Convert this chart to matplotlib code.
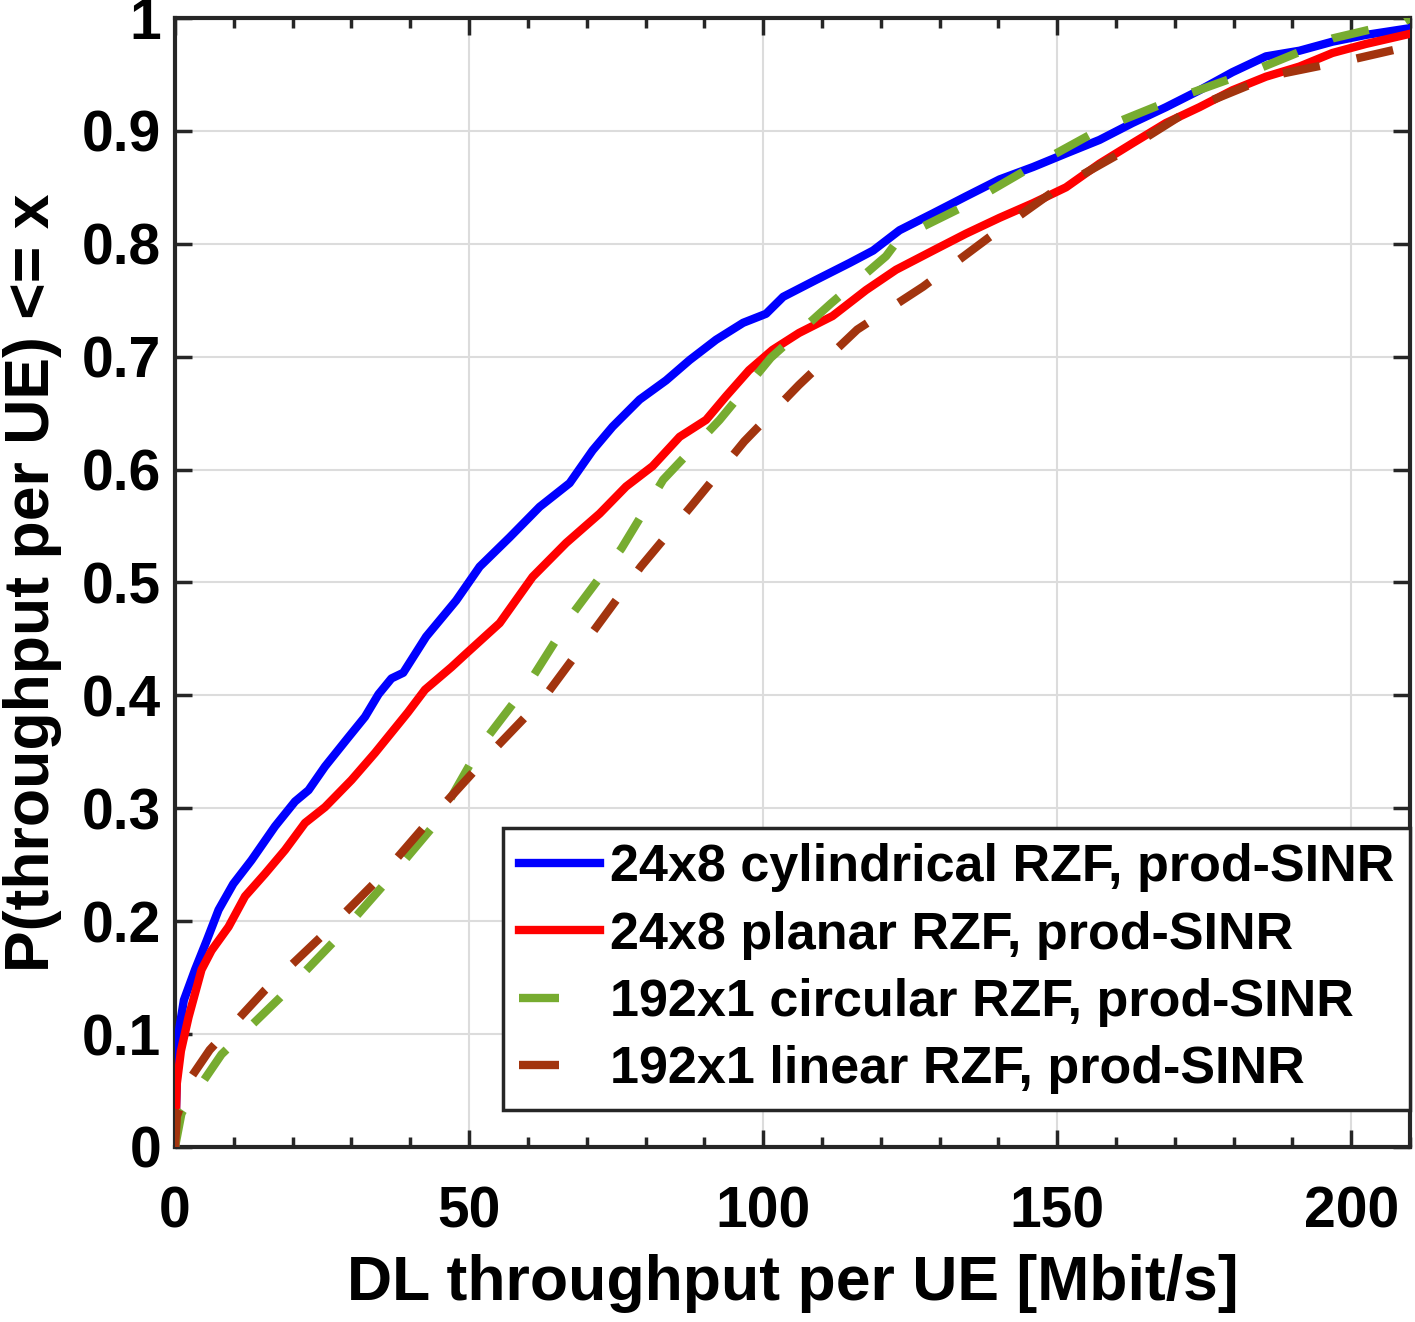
import numpy as np
import matplotlib
matplotlib.use('Agg')
import matplotlib.pyplot as plt
from matplotlib.lines import Line2D
from matplotlib.ticker import MultipleLocator

# Valeurs (CDF du débit DL par UE)
cyl_x = [0, 0.3, 0.57, 1.5, 3.4, 5.4, 7.4, 9.9, 13, 17, 20.4, 22.7, 25.5, 29.5, 32.3,
         34.6, 36.8, 38.8, 42.7, 47.8, 51.8, 56.9, 62, 67.1, 71, 74.4, 79, 83.5, 87.5,
         92, 96.6, 100.5, 103.4, 109, 114.7, 118.7, 123.2, 128.9, 134.5, 140.2, 145.9,
         151.5, 157.2, 162.8, 168.5, 174.2, 179.8, 185.5, 191.2, 196.8, 202.5, 210]
cyl_y = [0, 0.06, 0.1, 0.13, 0.157, 0.183, 0.21, 0.233, 0.254, 0.284, 0.306, 0.316,
         0.337, 0.363, 0.381, 0.401, 0.415, 0.42, 0.452, 0.484, 0.514, 0.54, 0.567,
         0.588, 0.617, 0.638, 0.662, 0.679, 0.697, 0.715, 0.73, 0.738, 0.753, 0.768,
         0.783, 0.794, 0.812, 0.827, 0.842, 0.857, 0.868, 0.88, 0.892, 0.907, 0.921,
         0.936, 0.952, 0.966, 0.971, 0.979, 0.985, 0.991]

pla_x = [0, 0.3, 1.0, 2.3, 4.5, 6.2, 9.1, 11.9, 15.3, 18.7, 22.1, 25.5, 30, 34, 36.8,
         39.6, 42.5, 47, 49.5, 55.2, 60.8, 66.5, 72.2, 76.7, 81.2, 85.8, 90.3, 93.7,
         97.6, 101.6, 106.1, 111.8, 117.5, 122.6, 128.9, 134.5, 140.2, 145.9, 151.5,
         157.2, 162.8, 168.5, 174.2, 179.8, 185.5, 191.2, 196.8, 202.5, 210]
pla_y = [0, 0.056, 0.085, 0.115, 0.157, 0.174, 0.195, 0.222, 0.242, 0.263, 0.287,
         0.301, 0.325, 0.349, 0.367, 0.385, 0.405, 0.425, 0.437, 0.464, 0.505, 0.535,
         0.561, 0.585, 0.603, 0.629, 0.644, 0.665, 0.688, 0.706, 0.721, 0.736, 0.759,
         0.777, 0.794, 0.809, 0.823, 0.836, 0.85, 0.871, 0.889, 0.907, 0.921, 0.936,
         0.948, 0.957, 0.969, 0.977, 0.986]

cir_x = [0, 1.1, 7.9, 17.8, 27.2, 36.3, 44.7, 51.8, 60.3, 67.7, 75.9, 83, 92.6, 101.3,
         111.5, 120.9, 123.2, 133.7, 145.6, 157.5, 170.3, 184.2, 196.9, 209.1, 210]
cir_y = [0, 0.03, 0.082, 0.132, 0.183, 0.237, 0.289, 0.354, 0.412, 0.473, 0.53, 0.591,
         0.644, 0.699, 0.747, 0.789, 0.805, 0.832, 0.868, 0.902, 0.929, 0.955, 0.982,
         0.997, 1.0]

lin_x = [0, 0.3, 2.5, 5.9, 15.3, 25.2, 35.1, 43.9, 53.5, 62.9, 71.3, 79.2, 88, 96.8,
         106.1, 116, 127.2, 138.5, 149.8, 161.7, 173, 186.6, 200.8, 210]
lin_y = [0, 0.027, 0.06, 0.086, 0.139, 0.188, 0.24, 0.293, 0.348, 0.399, 0.458, 0.514,
         0.569, 0.625, 0.675, 0.724, 0.762, 0.806, 0.848, 0.883, 0.92, 0.949, 0.964,
         0.975]

labels = ['24x8 cylindrical RZF, prod-SINR', '24x8 planar RZF, prod-SINR',
          '192x1 circular RZF, prod-SINR', '192x1 linear RZF, prod-SINR']
couleurs = ['#0000ff', '#ff0000', '#77ac30', '#a2340e']

xticks = [0, 50, 100, 150, 200]
yticks = [0, 0.1, 0.2, 0.3, 0.4, 0.5, 0.6, 0.7, 0.8, 0.9, 1]
ytick_labels = ['0', '0.1', '0.2', '0.3', '0.4', '0.5', '0.6', '0.7', '0.8', '0.9', '1']

plt.rcParams['font.family'] = ['Liberation Sans', 'DejaVu Sans']
plt.rcParams['font.weight'] = 'bold'

fig = plt.figure(figsize=(14.15, 13.22), dpi=100)
ax = fig.add_axes([0.1237, 0.1324, 0.8728, 0.854])

lw = 6
tirets = (4.5, 4.5)
ax.plot(cyl_x, cyl_y, color=couleurs[0], lw=lw, zorder=3)
ax.plot(pla_x, pla_y, color=couleurs[1], lw=lw, zorder=3)
ax.plot(cir_x, cir_y, color=couleurs[2], lw=lw, dashes=tirets, zorder=4)
ax.plot(lin_x, lin_y, color=couleurs[3], lw=lw, dashes=tirets, zorder=4)

ax.set_xlim(0, 210)
ax.set_ylim(0, 1)
ax.set_xticks(xticks)
ax.xaxis.set_minor_locator(MultipleLocator(10))
ax.set_yticks(yticks)
ax.set_yticklabels(ytick_labels)
ax.grid(True, which='major', color='#dcdcdc', lw=1.5)
ax.set_axisbelow(True)

ax.tick_params(which='both', direction='in', top=True, right=True, labelsize=41,
               width=2.5, colors='#262626', labelcolor='black')
ax.tick_params(which='major', length=12)
ax.tick_params(axis='x', which='major', pad=28)
ax.tick_params(axis='y', which='major', pad=10)
ax.tick_params(which='minor', length=7)
ax.tick_params(axis='y', which='minor', left=False, right=False)
for s in ax.spines.values():
    s.set_linewidth(3)
    s.set_color('#262626')

ax.set_xlabel('DL throughput per UE [Mbit/s]', fontsize=45, fontweight='bold', labelpad=10)
ax.set_ylabel('P(throughput per UE) <= x', fontsize=45, fontweight='bold', labelpad=14)

handles = [Line2D([], [], color=couleurs[0], lw=lw),
           Line2D([], [], color=couleurs[1], lw=lw),
           Line2D([], [], color=couleurs[2], lw=lw, dashes=(4.8, 30)),
           Line2D([], [], color=couleurs[3], lw=lw, dashes=(4.8, 30))]
leg = ax.legend(handles, labels, loc='lower right', bbox_to_anchor=(1, 0.033),
                fontsize=37.5, handlelength=1.55, handletextpad=0.2, borderaxespad=0,
                labelspacing=0.35, fancybox=False, framealpha=1, edgecolor='#262626',
                borderpad=0.3)
leg.get_frame().set_linewidth(2.5)

fig.savefig('out.png', dpi=100)
